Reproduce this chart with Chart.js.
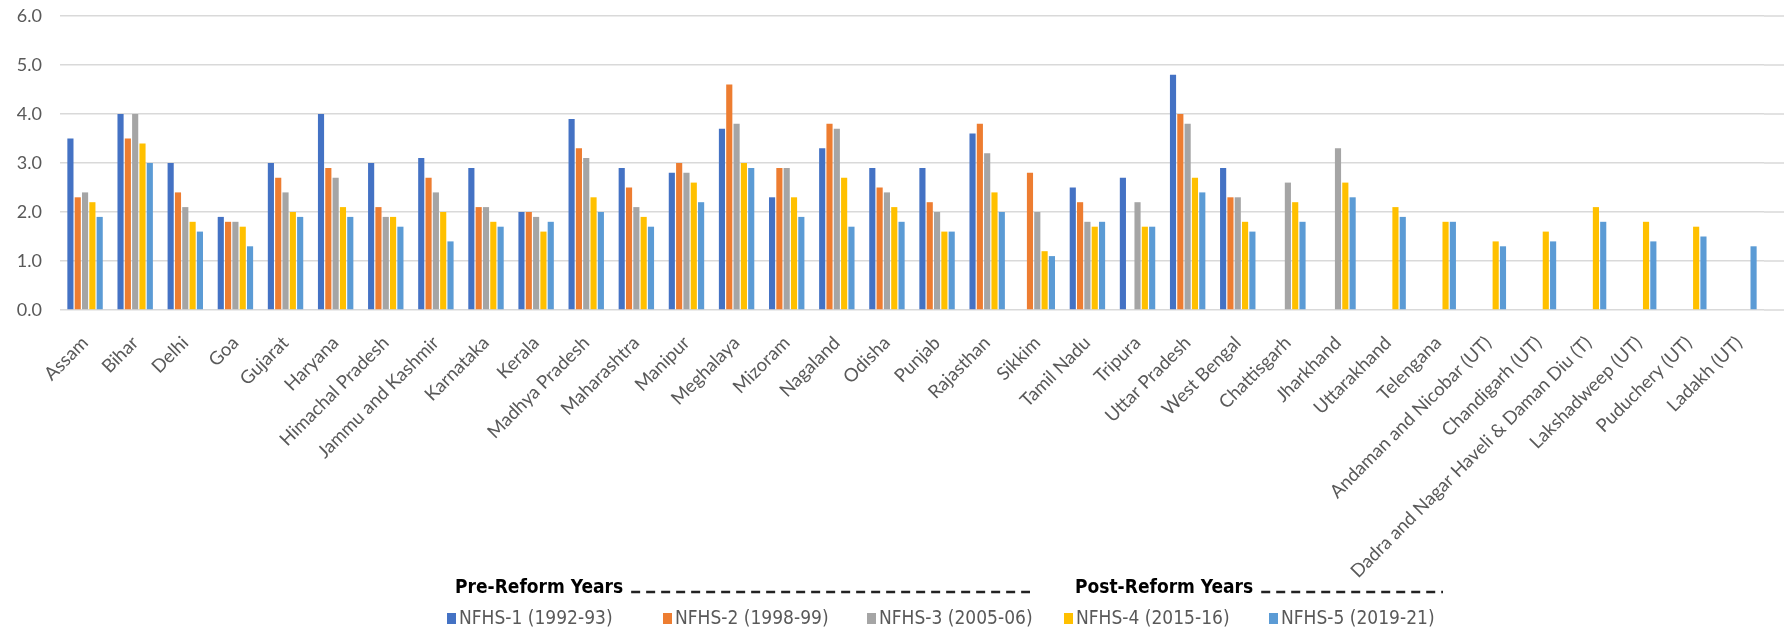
<!DOCTYPE html>
<html>
<head>
<meta charset="utf-8">
<script src="https://cdn.jsdelivr.net/npm/chart.js@4.4.1/dist/chart.umd.min.js"></script>
<style>
  html, body { margin: 0; padding: 0; background: #fff; }
  #wrap { width: 1784px; height: 631px; }
</style>
</head>
<body>
<div id="wrap"><canvas id="chart" width="1784" height="631"></canvas></div>
<script>
// states / UTs on the x axis
const categories = [
    "Assam", "Bihar", "Delhi", "Goa", "Gujarat", "Haryana", "Himachal Pradesh",
    "Jammu and Kashmir", "Karnataka", "Kerala", "Madhya Pradesh", "Maharashtra",
    "Manipur", "Meghalaya", "Mizoram", "Nagaland", "Odisha", "Punjab", "Rajasthan",
    "Sikkim", "Tamil Nadu", "Tripura", "Uttar Pradesh", "West Bengal", "Chattisgarh",
    "Jharkhand", "Uttarakhand", "Telengana", "Andaman and Nicobar (UT)",
    "Chandigarh (UT)", "Dadra and Nagar Haveli & Daman Diu (T)", "Lakshadweep (UT)",
    "Puduchery (UT)", "Ladakh (UT)"
];

const seriesNames = ["NFHS-1 (1992-93)", "NFHS-2 (1998-99)", "NFHS-3 (2005-06)", "NFHS-4 (2015-16)", "NFHS-5 (2019-21)"];
const seriesColors = ["#4472C4", "#ED7D31", "#A5A5A5", "#FFC000", "#5B9BD5"];

const nfhs1 = [3.5, 4.0, 3.0, 1.9, 3.0, 4.0, 3.0, 3.1, 2.9, 2.0, 3.9, 2.9, 2.8, 3.7, 2.3, 3.3, 2.9,
    2.9, 3.6, null, 2.5, 2.7, 4.8, 2.9, null, null, null, null, null, null, null, null, null, null];
const nfhs2 = [2.3, 3.5, 2.4, 1.8, 2.7, 2.9, 2.1, 2.7, 2.1, 2.0, 3.3, 2.5, 3.0, 4.6, 2.9, 3.8, 2.5,
    2.2, 3.8, 2.8, 2.2, null, 4.0, 2.3, null, null, null, null, null, null, null, null, null, null];
const nfhs3 = [2.4, 4.0, 2.1, 1.8, 2.4, 2.7, 1.9, 2.4, 2.1, 1.9, 3.1, 2.1, 2.8, 3.8, 2.9, 3.7, 2.4,
    2.0, 3.2, 2.0, 1.8, 2.2, 3.8, 2.3, 2.6, 3.3, null, null, null, null, null, null, null, null];
const nfhs4 = [2.2, 3.4, 1.8, 1.7, 2.0, 2.1, 1.9, 2.0, 1.8, 1.6, 2.3, 1.9, 2.6, 3.0, 2.3, 2.7, 2.1,
    1.6, 2.4, 1.2, 1.7, 1.7, 2.7, 1.8, 2.2, 2.6, 2.1, 1.8, 1.4, 1.6, 2.1, 1.8, 1.7, null];
const nfhs5 = [1.9, 3.0, 1.6, 1.3, 1.9, 1.9, 1.7, 1.4, 1.7, 1.8, 2.0, 1.7, 2.2, 2.9, 1.9, 1.7, 1.8,
    1.6, 2.0, 1.1, 1.8, 1.7, 2.4, 1.6, 1.8, 2.3, 1.9, 1.8, 1.3, 1.4, 1.8, 1.4, 1.5, 1.3];

const yTicks = [0, 1, 2, 3, 4, 5, 6];

const seriesValues = [nfhs1, nfhs2, nfhs3, nfhs4, nfhs5];

const GRID = "#d9d9d9";
const TEXT = "#595959";
const NARROW = '"Liberation Sans Narrow", "DejaVu Sans Condensed", "Liberation Sans", sans-serif';
const BODY = 'Lato, "Open Sans", sans-serif';

// gridlines run on to the right edge of the picture
const gridTail = {
    id: "gridTail",
    beforeDatasetsDraw(chart) {
        const { ctx, chartArea, scales } = chart;
        ctx.save();
        ctx.strokeStyle = GRID;
        ctx.lineWidth = 1.5;
        yTicks.forEach(v => {
            const y = scales.y.getPixelForValue(v);
            ctx.beginPath();
            ctx.moveTo(chartArea.right, y);
            ctx.lineTo(chart.width, y);
            ctx.stroke();
        });
        ctx.restore();
    }
};

// legend with the pre / post reform headers
const reformLegend = {
    id: "reformLegend",
    afterDraw(chart) {
        const ctx = chart.ctx;
        ctx.save();
        ctx.textBaseline = "middle";

        const headers = [
            { text: "Pre-Reform Years", x: 455, dashEnd: 1030 },
            { text: "Post-Reform Years", x: 1075, dashEnd: 1443 }
        ];
        ctx.font = "bold 19px " + NARROW;
        ctx.fillStyle = "#000";
        headers.forEach(h => {
            ctx.fillText(h.text, h.x, 588);
            const w = ctx.measureText(h.text).width;
            ctx.strokeStyle = "#222";
            ctx.lineWidth = 2.5;
            ctx.setLineDash([9, 6]);
            ctx.beginPath();
            ctx.moveTo(h.x + w + 8, 592);
            ctx.lineTo(h.dashEnd, 592);
            ctx.stroke();
            ctx.setLineDash([]);
        });

        const itemX = [447, 663, 867, 1064, 1269];
        ctx.font = "19px " + NARROW;
        chart.data.datasets.forEach((ds, i) => {
            ctx.fillStyle = ds.backgroundColor;
            ctx.fillRect(itemX[i], 613, 9, 11);
            ctx.fillStyle = TEXT;
            ctx.fillText(ds.label, itemX[i] + 12, 619);
        });
        ctx.restore();
    }
};

const ctx = document.getElementById("chart");

new Chart(ctx, {
    type: "bar",
    data: {
        labels: categories,
        datasets: seriesValues.map((vals, i) => ({
            label: seriesNames[i],
            data: vals,
            backgroundColor: seriesColors[i],
            borderWidth: 0,
            barPercentage: 0.84,
            categoryPercentage: 0.73
        }))
    },
    options: {
        responsive: false,
        animation: false,
        devicePixelRatio: 1,
        layout: { padding: { top: 16, right: 20, left: 0, bottom: 0 } },
        plugins: {
            legend: { display: false },
            tooltip: { enabled: false }
        },
        scales: {
            x: {
                grid: { display: false },
                border: { display: false },
                ticks: {
                    autoSkip: false,
                    minRotation: 45,
                    maxRotation: 45,
                    padding: 14,
                    color: TEXT,
                    font: { family: BODY, size: 18.5 }
                },
                afterFit(scale) { scale.height = 321; }
            },
            y: {
                min: 0,
                max: 6,
                afterBuildTicks(scale) { scale.ticks = yTicks.map(v => ({ value: v })); },
                grid: { color: GRID, lineWidth: 1.5, drawTicks: false },
                border: { display: false },
                ticks: {
                    padding: 18,
                    color: TEXT,
                    font: { family: BODY, size: 18 },
                    callback: v => v.toFixed(1)
                },
                afterFit(scale) {
                    scale.width = 60;
                    scale.paddingTop = 0;
                    scale.paddingBottom = 0;
                }
            }
        }
    },
    plugins: [gridTail, reformLegend]
});
</script>
</body>
</html>
